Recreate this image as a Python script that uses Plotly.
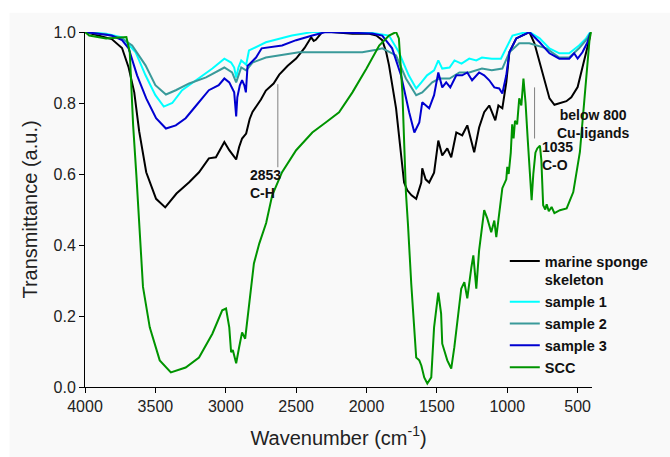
import plotly.graph_objects as go

# ---- data (wavenumber in cm^-1, transmittance in a.u.) ----
sponge_w = [4000, 3810, 3737, 3690, 3650, 3615, 3565, 3495, 3430, 3350, 3260, 3190, 3120, 3070,
            3010, 2975, 2926, 2905, 2884, 2855, 2830, 2810, 2750, 2715, 2660, 2620, 2560, 2500,
            2440, 2393, 2375, 2360, 2315, 2250, 2100, 1980, 1930, 1888, 1860, 1840, 1790, 1755,
            1733, 1710, 1680, 1647, 1611, 1604, 1580, 1555, 1520, 1490, 1462, 1426, 1398, 1362,
            1320, 1284, 1235, 1200, 1164, 1128, 1085, 1063, 1035, 1007, 985, 936, 865, 843, 807,
            750, 700, 665, 630, 580, 545, 500, 466, 430, 410]
sponge_t = [1.0, 0.98, 0.955, 0.90, 0.83, 0.72, 0.605, 0.53, 0.506, 0.545, 0.577, 0.605, 0.644, 0.647,
            0.69, 0.667, 0.641, 0.676, 0.70, 0.714, 0.755, 0.775, 0.81, 0.835, 0.855, 0.88, 0.905, 0.925,
            0.955, 0.985, 0.975, 0.978, 1.0, 1.0, 0.995, 0.995, 0.99, 0.977, 0.943, 0.906, 0.785, 0.66,
            0.576, 0.554, 0.54, 0.53, 0.576, 0.616, 0.585, 0.576, 0.604, 0.694, 0.652, 0.672, 0.647, 0.717,
            0.709, 0.737, 0.661, 0.731, 0.774, 0.793, 0.751, 0.793, 0.785, 0.858, 0.943, 0.982, 0.996, 1.0, 0.968,
            0.883, 0.813, 0.795, 0.80, 0.805, 0.816, 0.845, 0.9, 0.954, 0.99]

s1_w = [4000, 3850, 3737, 3640, 3570, 3500, 3440, 3380, 3310, 3210, 3095, 3010, 2962, 2940, 2926,
        2910, 2890, 2855, 2835, 2715, 2530, 2385, 2000, 1840, 1770, 1700, 1647, 1610, 1570, 1520,
        1490, 1462, 1410, 1375, 1325, 1270, 1220, 1180, 1110, 1045, 1007, 963, 865, 843, 770, 700,
        630, 560, 490, 440, 410]
s1_t = [1.0, 0.995, 0.985, 0.943, 0.878, 0.822, 0.79, 0.80, 0.836, 0.864, 0.897, 0.925, 0.914, 0.90, 0.872,
        0.90, 0.92, 0.908, 0.948, 0.971, 0.99, 1.0, 1.0, 0.99, 0.943, 0.878, 0.841, 0.858, 0.878, 0.892,
        0.92, 0.897, 0.9, 0.92, 0.911, 0.925, 0.92, 0.928, 0.925, 0.925, 0.954, 0.99, 1.0, 1.0, 0.982, 0.954,
        0.94, 0.94, 0.962, 0.982, 1.0]

s2_w = [4000, 3850, 3737, 3665, 3570, 3500, 3425, 3355, 3260, 3140, 3010, 2955, 2926, 2890, 2855,
        2810, 2715, 2480, 2195, 2030, 1930, 1888, 1790, 1720, 1647, 1604, 1533, 1483, 1410, 1340,
        1270, 1180, 1110, 1035, 985, 915, 843, 722, 630, 560, 490, 430, 410]
s2_t = [1.0, 0.993, 0.982, 0.962, 0.906, 0.85, 0.824, 0.836, 0.855, 0.872, 0.9, 0.886, 0.858, 0.9, 0.892,
        0.914, 0.928, 0.943, 0.943, 0.943, 0.95, 0.954, 0.934, 0.869, 0.822, 0.83, 0.858, 0.869, 0.869, 0.886,
        0.886, 0.897, 0.892, 0.897, 0.943, 0.968, 0.968, 0.954, 0.928, 0.928, 0.954, 0.982, 0.997]

s3_w = [4000, 3810, 3737, 3690, 3630, 3565, 3495, 3425, 3355, 3285, 3210, 3120, 3050, 3010, 2975,
        2940, 2926, 2918, 2900, 2884, 2868, 2857, 2845, 2830, 2785, 2745, 2600, 2500, 2385, 2290,
        1960, 1888, 1818, 1755, 1697, 1660, 1625, 1604, 1555, 1520, 1490, 1462, 1434, 1405, 1362,
        1320, 1284, 1250, 1200, 1164, 1128, 1092, 1057, 1035, 1007, 985, 936, 865, 843, 770, 700,
        630, 560, 525, 500, 466, 430, 410]
s3_t = [1.0, 0.99, 0.977, 0.954, 0.878, 0.813, 0.757, 0.728, 0.737, 0.757, 0.793, 0.836, 0.85, 0.869, 0.858,
        0.83, 0.762, 0.816, 0.85, 0.864, 0.85, 0.83, 0.905, 0.91, 0.928, 0.954, 0.962, 0.977, 0.99, 1.0,
        0.996, 0.99, 0.954, 0.878, 0.774, 0.717, 0.745, 0.802, 0.785, 0.822, 0.886, 0.844, 0.858, 0.844, 0.878,
        0.878, 0.886, 0.864, 0.886, 0.878, 0.864, 0.844, 0.841, 0.827, 0.878, 0.943, 0.982, 0.996, 1.0, 0.971, 0.94,
        0.925, 0.925, 0.94, 0.925, 0.943, 0.971, 0.997]

scc_w = [4000, 3970, 3850, 3737, 3706, 3682, 3658, 3635, 3616, 3588, 3540, 3469, 3390, 3285, 3190,
         3095, 3025, 2998, 2975, 2962, 2950, 2926, 2905, 2884, 2862, 2834, 2800, 2762, 2713, 2670,
         2600, 2500, 2385, 2290, 2195, 2100, 2000, 1910, 1840, 1790, 1770, 1745, 1720, 1705, 1682,
         1647, 1625, 1610, 1590, 1568, 1540, 1520, 1490, 1470, 1462, 1426, 1398, 1376, 1355, 1327,
         1305, 1284, 1255, 1241, 1220, 1200, 1164, 1142, 1114, 1092, 1078, 1057, 1035, 1007, 1000,
         990, 975, 965, 955, 945, 930, 915, 900, 885, 870, 855, 840, 827, 815, 800, 787, 768, 758,
         745, 730, 720, 705, 685, 665, 626, 578, 531, 484, 448, 415, 405]
scc_t = [1.0, 0.99, 0.982, 0.985, 0.986, 0.943, 0.737, 0.596, 0.455, 0.282, 0.168, 0.075, 0.041, 0.055, 0.083,
         0.15, 0.216, 0.221, 0.168, 0.098, 0.104, 0.067, 0.112, 0.154, 0.136, 0.235, 0.348, 0.404, 0.462, 0.54,
         0.605, 0.667, 0.717, 0.745, 0.774, 0.83, 0.897, 0.962, 0.99, 1.0, 0.982, 0.83, 0.548, 0.455, 0.29,
         0.083, 0.075, 0.06, 0.027, 0.01, 0.027, 0.168, 0.266, 0.207, 0.122, 0.075, 0.052, 0.112, 0.188, 0.277,
         0.295, 0.25, 0.337, 0.371, 0.277, 0.385, 0.498, 0.475, 0.436, 0.469, 0.422, 0.498, 0.56, 0.585, 0.62,
         0.60, 0.66, 0.74, 0.70, 0.75, 0.74, 0.813, 0.793, 0.869, 0.80, 0.70, 0.60, 0.526, 0.60, 0.66, 0.672, 0.68, 0.64,
         0.512, 0.50, 0.515, 0.495, 0.507, 0.49, 0.498, 0.503, 0.549, 0.662, 0.831, 0.981, 1.0]

series = [
    ("marine sponge<br>skeleton", sponge_w, sponge_t, "#000000"),
    ("sample 1", s1_w, s1_t, "#00ffff"),
    ("sample 2", s2_w, s2_t, "#3a9a9a"),
    ("sample 3", s3_w, s3_t, "#0000d0"),
    ("SCC", scc_w, scc_t, "#009400"),
]

x_ticks = [4000, 3500, 3000, 2500, 2000, 1500, 1000, 500]
y_ticks = [0.0, 0.2, 0.4, 0.6, 0.8, 1.0]

fig = go.Figure()
for name, w, t, c in series:
    fig.add_trace(go.Scatter(x=w, y=t, mode="lines", name=name,
                             line=dict(color=c, width=2)))

FONT = "Arial, Liberation Sans, sans-serif"
axis_common = dict(showline=True, linecolor="black", linewidth=1, ticks="outside",
                   ticklen=5, tickcolor="black", showgrid=False, zeroline=False,
                   automargin=False,
                   tickfont=dict(family=FONT, size=16, color="#222222"))

fig.update_layout(
    width=670, height=457,
    margin=dict(l=85, r=78, t=32, b=70),
    paper_bgcolor="white", plot_bgcolor="#f9f9f9",
    font=dict(family=FONT),
    xaxis=dict(range=[4000, 398], tickvals=x_ticks,
               title=dict(text="Wavenumber (cm<sup>-1</sup>)", font=dict(family=FONT, size=20, color="#222222"),
                          standoff=16),
               **axis_common),
    yaxis=dict(range=[0, 1.0], tickvals=y_ticks, tickformat=".1f",
               title=dict(text="Transmittance (a.u.)", font=dict(family=FONT, size=20, color="#222222"),
                          standoff=10),
               **axis_common),
    legend=dict(x=0.828, y=0.40, xanchor="left", yanchor="top", valign="top",
                bgcolor="rgba(0,0,0,0)", borderwidth=0,
                font=dict(family=FONT, size=14.5, color="#111111", weight="bold")),
    shapes=[
        dict(type="rect", xref="paper", yref="paper", x0=-0.149, x1=1.2, y0=-0.25, y1=1.054,
             fillcolor="#f9f9f9", line=dict(width=0), layer="below"),
        dict(type="line", xref="x", yref="y", x0=2630, x1=2630, y0=0.853, y1=0.619,
             line=dict(color="#808080", width=1)),
        dict(type="line", xref="x", yref="y", x0=806, x1=806, y0=0.844, y1=0.70,
             line=dict(color="#808080", width=1)),
    ],
    annotations=[
        dict(x=2844, y=0.571, xref="x", yref="y", text="2853<br>C-H", showarrow=False,
             xanchor="left", yanchor="middle", align="left",
             font=dict(family=FONT, size=14, color="#111111", weight="bold")),
        dict(x=768, y=0.651, xref="x", yref="y", text="1035<br>C-O", showarrow=False,
             xanchor="left", yanchor="middle", align="left",
             font=dict(family=FONT, size=14, color="#111111", weight="bold")),
        dict(x=1.002, y=0.742, xref="paper", yref="y", text="below 800<br>Cu-ligands", showarrow=False,
             xanchor="center", yanchor="middle", align="center",
             font=dict(family=FONT, size=14, color="#111111", weight="bold")),
    ],
)

fig.write_html("out.html", config={"displayModeBar": False},
               post_script="document.body.style.margin='0';")
